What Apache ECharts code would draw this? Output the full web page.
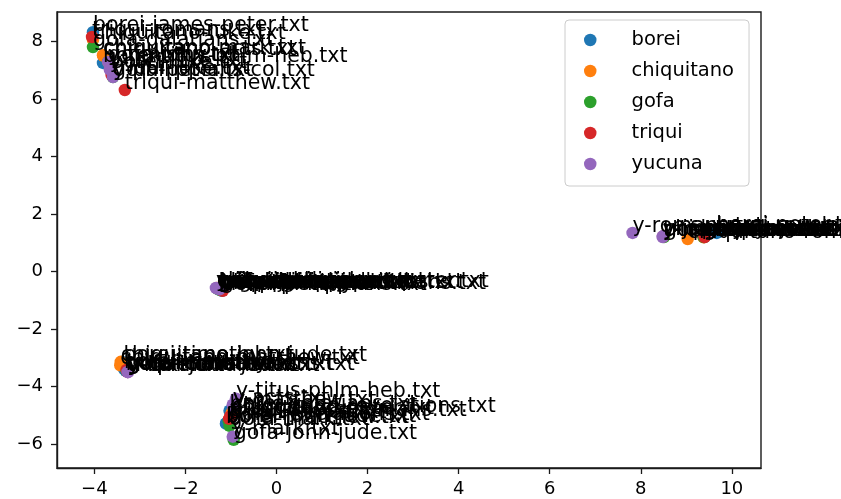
<!DOCTYPE html>
<html>
<head>
<meta charset="utf-8">
<script src="https://cdn.jsdelivr.net/npm/echarts@6/dist/echarts.min.js"></script>
<style>
  html, body { margin: 0; padding: 0; background: #ffffff; }
  #chart { width: 841px; height: 499px; }
</style>
</head>
<body>
<div id="chart"></div>
<script>
// Languages and their colours (matplotlib tab10 order)
const languages = ['borei', 'chiquitano', 'gofa', 'triqui', 'yucuna'];
const colors = ['#1f77b4', '#ff7f0e', '#2ca02c', '#d62728', '#9467bd'];

// Tick positions on both axes
const xTicks = [-4, -2, 0, 2, 4, 6, 8, 10];
const yTicks = [-6, -4, -2, 0, 2, 4, 6, 8];

// 2-D embedding of each text file, one list per language
const boreiPoints = [
  [-4.03, 8.32], [-3.81, 7.25], [-3.64, 7.05],
  [9.67, 1.34], [9.40, 1.20], [9.66, 1.36],
  [-1.27, -0.60], [-1.20, -0.67], [-1.24, -0.62],
  [-3.35, -3.38], [-3.31, -3.45], [-3.36, -3.15],
  [-1.11, -5.29], [-1.03, -4.84], [-1.10, -5.27]
];
const boreiFiles = [
  'borei-james-peter.txt', 'borei-titus-phlm-heb.txt', 'borei-luke.txt',
  'borei-revelations.txt', 'borei-acts.txt', 'borei-peter.txt',
  'borei-john.txt', 'borei-philippians.txt', 'borei-thessalonians.txt',
  'borei-mark.txt', 'borei-corinthians.txt', 'borei-timothy.txt',
  'borei-matthew.txt', 'borei-galatians.txt', 'borei-john-jude.txt'
];

const chiquitanoPoints = [
  [-3.81, 7.52], [-4.03, 8.05], [-3.80, 7.50],
  [9.03, 1.13], [8.51, 1.23], [9.38, 1.19],
  [-1.31, -0.57], [-1.20, -0.64], [-1.26, -0.60],
  [-3.42, -3.14], [-3.43, -3.26],
  [-0.98, -4.91], [-1.00, -4.99]
];
const chiquitanoFiles = [
  'chiquitano-mark.txt', 'chiquitano-luke.txt', 'chiquitano-acts.txt',
  'chiquitano-romans.txt', 'chiquitano-john.txt', 'chiquitano-timothy.txt',
  'chiquitano-james-peter.txt', 'chiquitano-corinthians.txt', 'chiquitano-galatians.txt',
  'chiquitano-john-jude.txt', 'chiquitano-matthew.txt',
  'chiquitano-revelations.txt', 'chiquitano-peter.txt'
];

const gofaPoints = [
  [-4.03, 7.80], [-3.70, 7.28], [-3.59, 6.76],
  [8.51, 1.20], [9.38, 1.20], [9.39, 1.22],
  [-1.29, -0.60], [-1.22, -0.64], [-1.26, -0.63],
  [-3.29, -3.45], [-3.27, -3.45],
  [-0.94, -5.85], [-1.03, -5.36], [-1.05, -5.20]
];
const gofaFiles = [
  'gofa-galatians.txt', 'gofa-john.txt', 'gofa-peter.txt',
  'gofa-romans.txt', 'gofa-luke.txt', 'gofa-james.txt',
  'gofa-acts.txt', 'gofa-timothy.txt', 'gofa-philippians.txt',
  'gofa-thessalonians.txt', 'gofa-matthew.txt',
  'gofa-john-jude.txt', 'gofa-mark.txt', 'gofa-revelations.txt'
];

const triquiPoints = [
  [-4.05, 8.15], [-3.33, 6.31], [-3.62, 6.83],
  [9.40, 1.20], [8.49, 1.21], [9.41, 1.22],
  [-1.18, -0.67], [-1.27, -0.57], [-1.22, -0.61],
  [-3.27, -3.49], [-3.29, -3.42],
  [-1.04, -5.12], [-1.02, -5.05]
];
const triquiFiles = [
  'triqui-romans.txt', 'triqui-matthew.txt', 'triqui-luke.txt',
  'triqui-revelations.txt', 'triqui-corinthians.txt', 'triqui-mark.txt',
  'triqui-peter.txt', 'triqui-philippians.txt', 'triqui-galatians.txt',
  'triqui-john-jude.txt', 'triqui-timothy.txt',
  'triqui-james.txt', 'triqui-thessalonians.txt'
];

const yucunaPoints = [
  [-3.70, 7.28], [-3.59, 6.76], [-3.66, 7.02],
  [7.82, 1.34], [8.48, 1.20], [8.49, 1.23],
  [-1.33, -0.57], [-1.25, -0.62], [-1.30, -0.59],
  [-3.27, -3.49], [-3.26, -3.50],
  [-0.89, -4.42], [-0.96, -4.63], [-0.96, -5.74], [-0.95, -4.70]
];
const yucunaFiles = [
  'y-timothy.txt', 'y-philippians-col.txt', 'y-john.txt',
  'y-romans.txt', 'y-revelations.txt', 'y-john-jude.txt',
  'y-2peter.txt', 'y-galatians-eph.txt', 'y-thessalonians.txt',
  'y-corinthians.txt', 'y-luke.txt',
  'y-titus-phlm-heb.txt', 'y-acts.txt', 'y-mark.txt', 'y-matthew.txt'
];

const pointSets = [boreiPoints, chiquitanoPoints, gofaPoints, triquiPoints, yucunaPoints];
const fileSets = [boreiFiles, chiquitanoFiles, gofaFiles, triquiFiles, yucunaFiles];

const FONT = 'DejaVu Sans';
const minus = v => (v < 0 ? '\u2212' + Math.abs(v) : String(v));

const series = languages.map((lang, k) => ({
  name: lang,
  type: 'scatter',
  symbol: 'circle',
  symbolSize: 12.5,
  itemStyle: { color: colors[k], opacity: 1 },
  data: pointSets[k],
  label: {
    show: true,
    position: ['50%', '50%'],
    align: 'left',
    verticalAlign: 'bottom',
    offset: [0, 4],
    fontFamily: FONT,
    fontSize: 20.5,
    color: '#000000',
    formatter: p => fileSets[k][p.dataIndex]
  },
  emphasis: { disabled: true },
  silent: true,
  animation: false
}));

const chart = echarts.init(document.getElementById('chart'), null, { renderer: 'canvas' });
chart.setOption({
  backgroundColor: '#ffffff',
  animation: false,
  grid: {
    left: 57, right: 80, top: 12, bottom: 31,
    outerBoundsMode: 'none',
    show: true,
    borderColor: '#1a1a1a',
    borderWidth: 1.4,
    backgroundColor: 'transparent'
  },
  legend: {
    orient: 'vertical',
    left: 565,
    top: 20,
    padding: [10, 15, 12, 19],
    itemWidth: 12.5,
    itemHeight: 12.5,
    itemGap: 11,
    icon: 'circle',
    borderColor: '#cccccc',
    borderWidth: 1,
    borderRadius: 4,
    backgroundColor: 'rgba(255,255,255,0.8)',
    textStyle: {
      fontFamily: FONT,
      fontSize: 19.5,
      color: '#000000',
      lineHeight: 20,
      padding: [0, 0, 0, 30]
    },
    data: languages
  },
  xAxis: {
    type: 'value',
    min: -4.82,
    max: 10.64,
    splitLine: { show: false },
    axisLine: { show: true, onZero: false, lineStyle: { color: '#1a1a1a', width: 1.4 } },
    axisTick: { show: true, length: 6, lineStyle: { color: '#1a1a1a', width: 1.3 }, customValues: xTicks },
    axisLabel: {
      show: true, margin: 12, fontFamily: FONT, fontSize: 18, color: '#000000',
      customValues: xTicks, formatter: minus
    }
  },
  yAxis: {
    type: 'value',
    min: -6.83,
    max: 9.02,
    splitLine: { show: false },
    axisLine: { show: true, onZero: false, lineStyle: { color: '#1a1a1a', width: 1.4 } },
    axisTick: { show: true, length: 6, lineStyle: { color: '#1a1a1a', width: 1.3 }, customValues: yTicks },
    axisLabel: {
      show: true, margin: 14, fontFamily: FONT, fontSize: 18, color: '#000000',
      customValues: yTicks, formatter: minus
    }
  },
  series: series
});
</script>
</body>
</html>
